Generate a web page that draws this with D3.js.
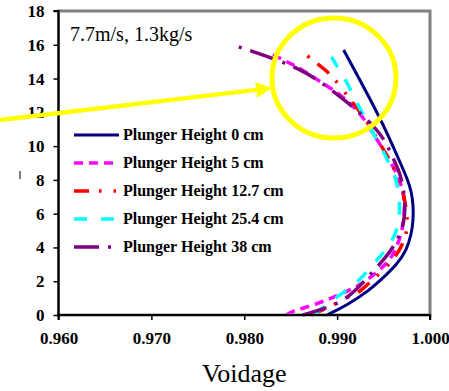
<!DOCTYPE html>
<html>
<head>
<meta charset="utf-8">
<script src="https://cdn.jsdelivr.net/npm/d3@7"></script>
<style>
  html, body { margin: 0; padding: 0; background: #fff; }
  svg { display: block; }
</style>
</head>
<body>
<svg id="chart" width="449" height="391"></svg>
<script>
// ---- Data: [voidage, height] pairs ----
const seriesNames = ["Plunger Height 0 cm", "Plunger Height 5 cm", "Plunger Height 12.7 cm", "Plunger Height 25.4 cm", "Plunger Height 38 cm"];

const h0cm = [[0.9889,0],[0.9911,0.59],[0.9935,1.48],[0.9947,2.07],[0.9964,2.96],[0.9975,3.85],[0.9980,4.8],[0.9982,5.62],[0.9982,6.5],[0.9980,7.3],[0.9976,8.0],[0.9970,8.76],[0.9954,10.78],[0.9935,12.85],[0.9907,15.69]];
const h5cm = [[0.9846,0],[0.9849,0.18],[0.9879,0.65],[0.9901,1.18],[0.9916,1.54],[0.9928,1.89],[0.9946,2.66],[0.9960,3.43],[0.9970,4.85],[0.9972,5.92],[0.9973,6.81],[0.9968,7.99],[0.9955,9.35],[0.9941,10.54],[0.9928,11.72],[0.9917,12.37],[0.9903,13.08],[0.9887,13.62],[0.9860,14.62],[0.9846,14.98],[0.9826,15.57]];
const h12cm = [[0.9872,0],[0.9892,0.47],[0.9911,1.07],[0.9925,1.36],[0.9935,1.95],[0.9948,2.55],[0.9957,3.08],[0.9968,3.85],[0.9975,4.85],[0.9976,5.62],[0.9973,6.81],[0.9968,7.99],[0.9955,9.30],[0.9938,10.95],[0.9921,12.31],[0.9912,12.91],[0.9900,13.80],[0.9889,14.45],[0.9876,14.98],[0.9863,15.57]];
const h25cm = [[0.9876,0],[0.9878,0.2],[0.9900,1.07],[0.9925,2.07],[0.9935,2.78],[0.9946,3.43],[0.9952,3.85],[0.9962,4.62],[0.9966,5.45],[0.9968,6.39],[0.9965,7.70],[0.9962,8.29],[0.9955,9.06],[0.9949,9.77],[0.9943,10.36],[0.9928,11.84],[0.9917,13.03],[0.9911,13.74],[0.9901,14.62],[0.9894,15.28]];
const h38cm = [[0.9863,0],[0.9882,0.30],[0.9911,0.89],[0.9935,2.37],[0.9952,3.37],[0.9962,4.14],[0.9970,5.03],[0.9973,5.92],[0.9973,6.99],[0.9968,8.41],[0.9962,9.06],[0.9955,9.95],[0.9946,10.78],[0.9928,11.84],[0.9892,13.44],[0.9860,14.62],[0.9814,15.51],[0.9788,15.99]];

const xTicks = [0.960, 0.970, 0.980, 0.990, 1.000];
const yTicks = [0, 2, 4, 6, 8, 10, 12, 14, 16, 18];
const annotationText = "7.7m/s, 1.3kg/s";
const xTitle = "Voidage";

// ---- Styles ----
const styles = [
  { color: "#000080", width: 3,   dash: null },
  { color: "#ff00ff", width: 3.5, dash: "9,6" },
  { color: "#ff0000", width: 3.5, dash: "15,10,2.5,12,2.5,10" },
  { color: "#00ffff", width: 3.5, dash: "13,14" },
  { color: "#800080", width: 3.5, dash: "25,9,3,9" }
];
const allSeries = [h0cm, h5cm, h12cm, h25cm, h38cm];

const svg = d3.select("#chart");
const x = d3.scaleLinear().domain([0.96, 1.0]).range([58.5, 430]);
const y = d3.scaleLinear().domain([0, 18]).range([315, 11]);

const serif = "'Liberation Serif', 'Times New Roman', serif";

// plot area border (grey)
svg.append("rect")
  .attr("x", x(0.96)).attr("y", y(18))
  .attr("width", x(1.0) - x(0.96)).attr("height", y(0) - y(18))
  .attr("fill", "none").attr("stroke", "#808080").attr("stroke-width", 3);

// series lines
const line = d3.line()
  .x(d => x(d[0])).y(d => y(d[1]))
  .curve(d3.curveBasis);

allSeries.forEach((s, i) => {
  svg.append("path")
    .datum(s)
    .attr("d", line)
    .attr("fill", "none")
    .attr("stroke", styles[i].color)
    .attr("stroke-width", styles[i].width)
    .attr("stroke-dasharray", styles[i].dash);
});

// axes
const yAxis = svg.append("g")
  .attr("transform", `translate(${x(0.96)},0)`)
  .call(d3.axisLeft(y).tickValues(yTicks).tickSize(5).tickPadding(9).tickFormat(d3.format("d")));
const xAxis = svg.append("g")
  .attr("transform", `translate(0,${y(0)})`)
  .call(d3.axisBottom(x).tickValues(xTicks).tickSize(5).tickPadding(12).tickFormat(d3.format(".3f")));

[yAxis, xAxis].forEach(g => {
  g.select(".domain").attr("stroke", "#000").attr("stroke-width", 2);
  g.selectAll(".tick line").attr("stroke", "#000").attr("stroke-width", 1.5);
  g.selectAll(".tick text")
    .attr("fill", "#000")
    .style("font-family", serif)
    .style("font-size", "17px")
    .style("font-weight", "bold");
});
yAxis.select(".domain").attr("d", `M-5,${y(18)}H0V${y(0)}`);
xAxis.select(".domain").attr("d", `M${x(0.96)},5V0H${x(1.0)}V5`);

// x axis title
svg.append("text")
  .attr("x", (x(0.96) + x(1.0)) / 2).attr("y", 382)
  .attr("text-anchor", "middle")
  .style("font-family", serif).style("font-size", "26px")
  .attr("fill", "#000")
  .text(xTitle);

// clipped remnant of y axis title
svg.append("line")
  .attr("x1", 20).attr("x2", 20).attr("y1", 171).attr("y2", 179)
  .attr("stroke", "#000").attr("stroke-width", 1);

// annotation
svg.append("text")
  .attr("x", 70).attr("y", 41)
  .style("font-family", serif).style("font-size", "20px")
  .attr("fill", "#000")
  .text(annotationText);

// legend
const legend = svg.append("g");
seriesNames.forEach((name, i) => {
  const ly = 135 + i * 28;
  legend.append("line")
    .attr("x1", 74).attr("x2", 119).attr("y1", ly).attr("y2", ly)
    .attr("stroke", styles[i].color)
    .attr("stroke-width", styles[i].width)
    .attr("stroke-dasharray", styles[i].dash);
  legend.append("text")
    .attr("x", 123).attr("y", ly + 5)
    .style("font-family", serif).style("font-size", "16px").style("font-weight", "bold")
    .attr("fill", "#000")
    .text(name);
});

// yellow highlight circle + arrow
const yellow = "#ffff00";
svg.append("ellipse")
  .attr("cx", 334).attr("cy", 78).attr("rx", 62).attr("ry", 60)
  .attr("fill", "none").attr("stroke", yellow).attr("stroke-width", 5);

const ax0 = 0, ay0 = 120, ax1 = 272, ay1 = 88;
const ang = Math.atan2(ay1 - ay0, ax1 - ax0);
const headLen = 16, headHalf = 8;
const bx = ax1 - headLen * Math.cos(ang), by = ay1 - headLen * Math.sin(ang);
svg.append("line")
  .attr("x1", ax0).attr("y1", ay0).attr("x2", bx).attr("y2", by)
  .attr("stroke", yellow).attr("stroke-width", 4.5);
svg.append("path")
  .attr("d", `M${ax1},${ay1}L${bx + headHalf * Math.sin(ang)},${by - headHalf * Math.cos(ang)}L${bx - headHalf * Math.sin(ang)},${by + headHalf * Math.cos(ang)}Z`)
  .attr("fill", yellow);
</script>
</body>
</html>
